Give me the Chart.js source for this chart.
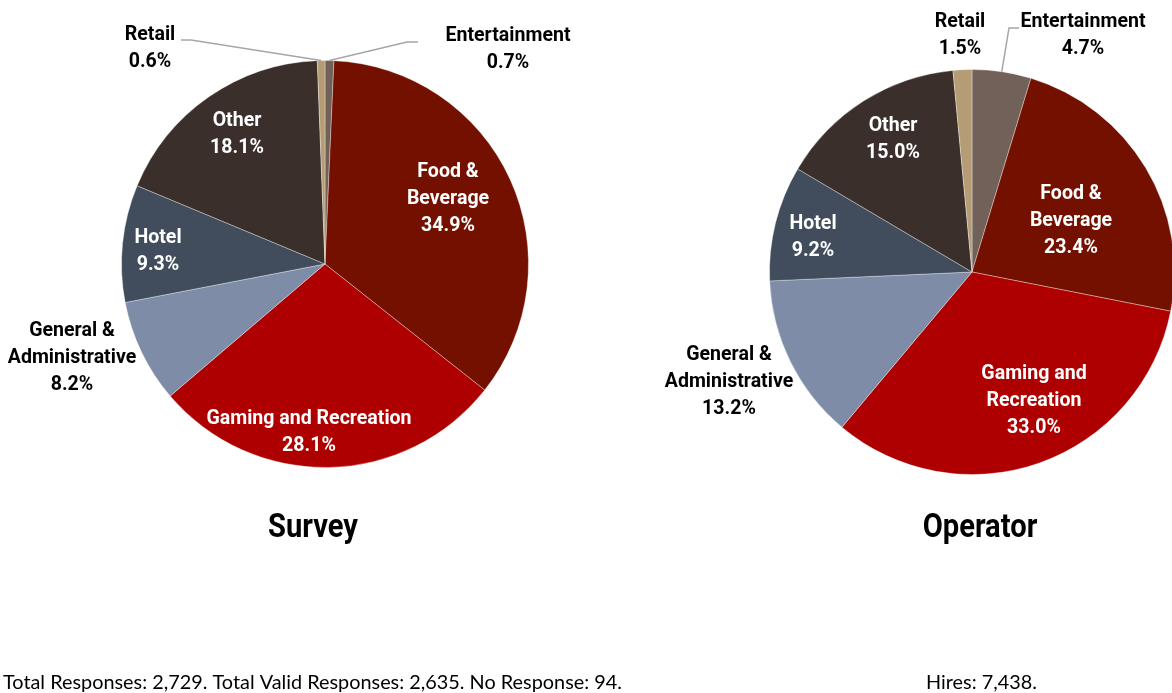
<!DOCTYPE html>
<html>
<head>
<meta charset="utf-8">
<script src="https://cdn.jsdelivr.net/npm/chart.js@4.4.0/dist/chart.umd.min.js"></script>
<style>
  body { margin: 0; background: #fff; overflow: hidden; }
  canvas { position: absolute; left: 0; top: 0; }
</style>
</head>
<body>
<canvas id="survey" width="1180" height="693"></canvas>
<canvas id="operator" width="1180" height="693"></canvas>
<script>
// Chart data
var categories = ['Entertainment', 'Food & Beverage', 'Gaming and Recreation', 'General & Administrative', 'Hotel', 'Other', 'Retail'];
var surveyValues = [0.7, 34.9, 28.1, 8.2, 9.3, 18.1, 0.6];
var operatorValues = [4.7, 23.4, 33.0, 13.2, 9.2, 15.0, 1.5];
var colors = ['#726158', '#741000', '#AE0000', '#7F8CA8', '#414D5C', '#3B2F2B', '#B59C74'];

// label layout: text lines, centre x, first line y, colour, optional leader line points
var surveyLabels = [
  { lines: ['Entertainment'], x: 508, y: 34, color: '#000', leader: [[418, 42], [407, 42]] },
  { lines: ['Food &', 'Beverage'], x: 448, y: 170, color: '#fff' },
  { lines: ['Gaming and Recreation'], x: 309, y: 417, color: '#fff' },
  { lines: ['General &', 'Administrative'], x: 72, y: 329, color: '#000' },
  { lines: ['Hotel'], x: 158, y: 236, color: '#fff' },
  { lines: ['Other'], x: 237, y: 119, color: '#fff' },
  { lines: ['Retail'], x: 150, y: 33, color: '#000', leader: [[181, 40], [191, 40]] }
];
var operatorLabels = [
  { lines: ['Entertainment'], x: 1083, y: 20, color: '#000', leader: [[1019, 28], [1009, 28]] },
  { lines: ['Food &', 'Beverage'], x: 1071, y: 192, color: '#fff' },
  { lines: ['Gaming and', 'Recreation'], x: 1034, y: 372, color: '#fff' },
  { lines: ['General &', 'Administrative'], x: 729, y: 353, color: '#000' },
  { lines: ['Hotel'], x: 813, y: 222, color: '#fff' },
  { lines: ['Other'], x: 893, y: 124, color: '#fff' },
  { lines: ['Retail'], x: 960, y: 20, color: '#000' }
];

var labelFont = 'bold 20px Roboto, sans-serif';
var titleFont = 'bold 33px Roboto, sans-serif';
var noteFont = '19px Lato, sans-serif';
var lineGap = 27;

// squeeze text horizontally so it looks like a narrow face
function squeezed(ctx, text, x, y, factor) {
  ctx.save();
  ctx.translate(x, y);
  ctx.scale(factor, 1);
  ctx.fillText(text, 0, 0);
  ctx.restore();
}
function factorFor(ctx, font, sample, width) {
  ctx.font = font;
  return width / ctx.measureText(sample).width;
}

// draws the slice labels, title and footnote
function labelPlugin(layout, title, titleX, note, noteX) {
  return {
    id: 'sliceLabels',
    afterDraw: function (chart) {
      var ctx = chart.ctx;
      var arcs = chart.getDatasetMeta(0).data;
      var values = chart.data.datasets[0].data;
      ctx.save();
      var fLab = factorFor(ctx, labelFont, 'Entertainment', 125);
      var fTitle = factorFor(ctx, titleFont, 'Survey', 90);
      var fNote = factorFor(ctx, noteFont, 'Total Responses: 2,729. Total Valid Responses: 2,635. No Response: 94.', 619);
      layout.forEach(function (lab, i) {
        if (lab.leader) {
          var a = arcs[i];
          var mid = (a.startAngle + a.endAngle) / 2;
          ctx.strokeStyle = '#A6A6A6';
          ctx.lineWidth = 1.5;
          ctx.beginPath();
          ctx.moveTo(lab.leader[0][0], lab.leader[0][1]);
          ctx.lineTo(lab.leader[1][0], lab.leader[1][1]);
          ctx.lineTo(a.x + Math.cos(mid) * a.outerRadius, a.y + Math.sin(mid) * a.outerRadius);
          ctx.stroke();
        }
        ctx.fillStyle = lab.color;
        ctx.font = labelFont;
        ctx.textAlign = 'center';
        ctx.textBaseline = 'alphabetic';
        var txt = lab.lines.concat([values[i].toFixed(1) + '%']);
        txt.forEach(function (t, k) {
          squeezed(ctx, t, lab.x, lab.y + 7 + k * lineGap, fLab);
        });
      });
      ctx.fillStyle = '#000';
      ctx.font = titleFont;
      squeezed(ctx, title, titleX, 537, fTitle);
      ctx.font = noteFont;
      ctx.textAlign = 'left';
      squeezed(ctx, note, noteX, 689, fNote);
      ctx.restore();
    }
  };
}

function makePie(id, values, padding, layout, title, titleX, note, noteX) {
  var ctx = document.getElementById(id).getContext('2d');
  return new Chart(ctx, {
    type: 'pie',
    data: {
      labels: categories,
      datasets: [{
        data: values,
        backgroundColor: colors,
        borderColor: 'rgba(255,255,255,0.35)',
        borderWidth: 1
      }]
    },
    options: {
      responsive: false,
      animation: false,
      layout: { padding: padding },
      plugins: { legend: { display: false }, tooltip: { enabled: false } }
    },
    plugins: [labelPlugin(layout, title, titleX, note, noteX)]
  });
}

makePie('survey', surveyValues, { left: 121, top: 60, right: 651, bottom: 225 },
  surveyLabels, 'Survey', 313, 'Total Responses: 2,729. Total Valid Responses: 2,635. No Response: 94.', 3);
makePie('operator', operatorValues, { left: 769, top: 69, right: 5, bottom: 218 },
  operatorLabels, 'Operator', 980, 'Hires: 7,438.', 926);
</script>
</body>
</html>
